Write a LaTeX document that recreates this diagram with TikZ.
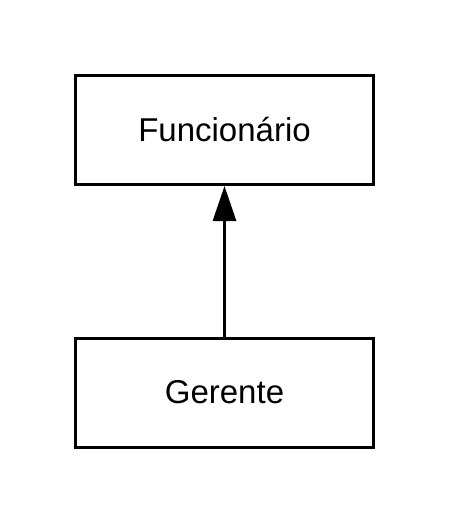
\documentclass[tikz,border=0pt]{standalone}
\usepackage{fontspec}
\setmainfont{Liberation Sans}
\usetikzlibrary{arrows.meta}

\begin{document}
\begin{tikzpicture}[x=1pt, y=-1pt]
	\def \boxw {298pt}
	\def \boxh {109pt}

	\tikzset{classe/.style={draw, rectangle, line width=3pt, minimum width=\boxw, minimum height=\boxh, inner sep=0pt, font=\fontsize{33}{40}\selectfont}}

	\useasboundingbox (0,0) rectangle (450,525);

	\node[classe] (funcionario) at (224.5, 130) {Funcionário};
	\node[classe] (gerente) at (224.5, 392.5) {Gerente};

	\draw[line width=3pt, -{Triangle[length=35pt, width=23pt]}] (gerente.north) -- (funcionario.south);
\end{tikzpicture}
\end{document}
